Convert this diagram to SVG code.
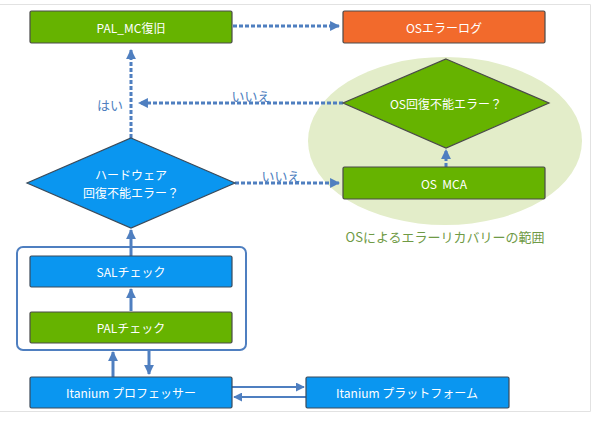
<svg xmlns="http://www.w3.org/2000/svg" width="596" height="424" viewBox="0 0 596 424">
<defs>
<style>
.lbl{font-family:"Noto Sans CJK JP","Noto Sans",sans-serif;font-size:12px;fill:#fff;text-anchor:middle;dominant-baseline:central}
.note{font-family:"Noto Sans CJK JP","Noto Sans",sans-serif;font-size:13px;fill:#4f7fc0;text-anchor:middle;dominant-baseline:central}
.green{fill:#66b300;stroke:#4a4a4a;stroke-width:1.2}
.blue{fill:#0a96f0;stroke:#3a4a5a;stroke-width:1.2}
.orange{fill:#f26a2c;stroke:#4a4a4a;stroke-width:1.2}
.dash{fill:none;stroke:#4f7fc0;stroke-width:3;stroke-dasharray:4 2}
.solid{fill:none;stroke:#4f7fc0;stroke-width:3}
.thin{fill:none;stroke:#4f7fc0;stroke-width:2}
</style>
<marker id="ah" viewBox="0 0 10 10" refX="9" refY="5" markerWidth="3.3" markerHeight="3.3" orient="auto" markerUnits="strokeWidth">
<path d="M0,0 L10,5 L0,10 z" fill="#4f7fc0"/>
</marker>
<marker id="ah2" viewBox="0 0 10 10" refX="9" refY="5" markerWidth="4.5" markerHeight="4.5" orient="auto" markerUnits="strokeWidth">
<path d="M0,0 L10,5 L0,10 z" fill="#4f7fc0"/>
</marker>
</defs>
<rect width="596" height="424" fill="#fff"/>
<path d="M0,4.5 H590.5 V411.5 H0" fill="none" stroke="#e2e2e2" stroke-width="1"/>

<g id="os-scope">
<ellipse cx="445" cy="141" rx="137" ry="84" fill="#e3edc9"/>
<text class="note" x="445" y="236" style="fill:#6f9a45">OSによるエラーリカバリーの範囲</text>
</g>

<g id="outer-box">
<rect x="17" y="247" width="229" height="103" rx="6" fill="#fff" stroke="#4f7fc0" stroke-width="2"/>
</g>

<g id="connectors">
<path class="dash" d="M233,26 H339" marker-end="url(#ah)"/>
<path class="dash" d="M131,138 V50" marker-end="url(#ah)"/>
<path class="dash" d="M343,103 H139" marker-end="url(#ah)"/>
<path class="dash" d="M235,183 H339" marker-end="url(#ah)"/>
<path class="dash" d="M446,167 V150" marker-end="url(#ah)"/>
<path class="solid" d="M131,256 V230" marker-end="url(#ah)"/>
<path class="solid" d="M131,311 V289" marker-end="url(#ah)"/>
<path class="solid" d="M113,377 V352" marker-end="url(#ah)"/>
<path class="solid" d="M149,351 V374" marker-end="url(#ah)"/>
<path class="thin" d="M232,387 H304" marker-end="url(#ah2)"/>
<path class="thin" d="M306,397 H234" marker-end="url(#ah2)"/>
<text class="note" x="110" y="104">はい</text>
<text class="note" x="251" y="95">いいえ</text>
<text class="note" x="281" y="175">いいえ</text>
</g>

<g id="pal-mc">
<rect class="green" x="30" y="11" width="202" height="32" rx="1.5"/>
<text class="lbl" x="131" y="27">PAL_MC復旧</text>
</g>
<g id="os-error-log">
<rect class="orange" x="343" y="11" width="202" height="32" rx="1.5"/>
<text class="lbl" x="444" y="27">OSエラーログ</text>
</g>
<g id="os-decision">
<polygon class="green" points="446,59 549,103 446,148 343,103"/>
<text class="lbl" x="446" y="103">OS回復不能エラー？</text>
</g>
<g id="os-mca">
<rect class="green" x="343" y="167" width="202" height="32" rx="1.5"/>
<text class="lbl" x="444" y="183" xml:space="preserve">OS  MCA</text>
</g>
<g id="hw-decision">
<polygon class="blue" points="131,138 235,183 131,228 27,183"/>
<text class="lbl" x="131" y="174">ハードウェア</text>
<text class="lbl" x="131" y="192">回復不能エラー？</text>
</g>
<g id="sal-check">
<rect class="blue" x="30" y="256" width="202" height="31" rx="1.5"/>
<text class="lbl" x="131" y="271.5">SALチェック</text>
</g>
<g id="pal-check">
<rect class="green" x="30" y="312" width="202" height="31" rx="1.5"/>
<text class="lbl" x="131" y="327.5">PALチェック</text>
</g>
<g id="itanium-processor">
<rect class="blue" x="30" y="377" width="202" height="31" rx="1.5"/>
<text class="lbl" x="131" y="392.5">Itanium プロフェッサー</text>
</g>
<g id="itanium-platform">
<rect class="blue" x="306" y="377" width="203" height="31" rx="1.5"/>
<text class="lbl" x="407" y="392.5">Itanium プラットフォーム</text>
</g>
</svg>
